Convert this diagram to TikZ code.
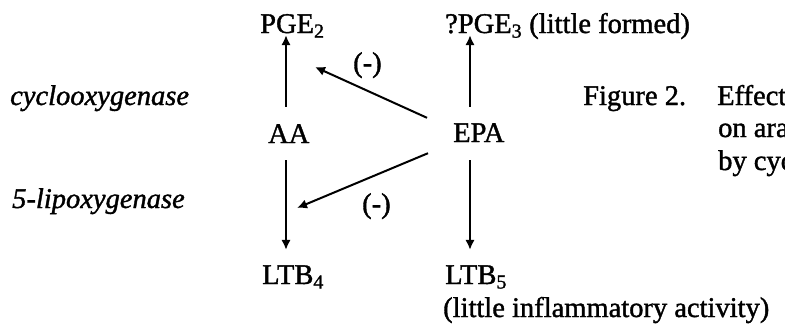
\documentclass[tikz,border=0pt]{standalone}
\usepackage{fontspec}
\usetikzlibrary{arrows.meta}
\newfontfamily\scanfont[FakeBold=1.3]{Liberation Serif}
\begin{document}
\begin{tikzpicture}[x=1pt,y=-1pt,
  every node/.style={font=\scanfont\fontsize{28.5}{33}\selectfont, inner sep=0pt, anchor=base west},
  chem/.style={text height=19pt, text depth=0pt},
  enz/.style={font=\scanfont\itshape\fontsize{28.5}{33}\selectfont},
  arr/.style={line width=2pt, -{Latex[length=10pt,width=9.5pt]}}]
\useasboundingbox (0,0) rectangle (785,325);
\clip (0,0) rectangle (785,325);
% compounds
\node[chem] (PGE2) at (260,33) {PGE\textsubscript{2}};
\node[chem] (PGE3) at (445,33) {?PGE\textsubscript{3} (little formed)};
\node[chem] (AA) at (268,143) {AA};
\node[chem] (EPA) at (453,142) {EPA};
\node[chem] (LTB4) at (262,284) {LTB\textsubscript{4}};
\node[chem] (LTB5) at (445,284) {LTB\textsubscript{5}};
\node (LTB5note) at (443,317) {(little inflammatory activity)};
% enzymes
\node[enz] (cox) at (10,105) {cyclooxygenase};
\node[enz] (lox) at (12,208) {5-lipoxygenase};
% inhibition marks
\node (minusUp) at (353,72) {(-)};
\node (minusDown) at (362,213) {(-)};
% caption
\node (figlabel) at (583,105) {Figure 2.};
\node (cap1) at (717,105) {Effect};
\node (cap2) at (718,137) {on ara};
\node (cap3) at (718,170) {by cyc};
% targets of inhibition
\coordinate (inhibUp) at (315,67);
\coordinate (inhibDown) at (297,208);
% arrows
\draw[arr] ([xshift=18pt,yshift=17pt]AA.north west) -- ([xshift=26pt,yshift=-2pt]PGE2.south west);
\draw[arr] ([xshift=17pt,yshift=16pt]EPA.north west) -- ([xshift=25pt,yshift=-2pt]PGE3.south west);
\draw[arr] ([xshift=18pt,yshift=-17pt]AA.south west) -- ([xshift=24pt,yshift=15pt]LTB4.north west);
\draw[arr] ([xshift=17pt,yshift=-18pt]EPA.south west) -- ([xshift=25pt,yshift=15pt]LTB5.north west);
\draw[arr] ([xshift=-26pt,yshift=5pt]EPA.north west) -- (inhibUp);
\draw[arr] ([xshift=-25pt,yshift=-11pt]EPA.south west) -- (inhibDown);
\end{tikzpicture}
\end{document}
